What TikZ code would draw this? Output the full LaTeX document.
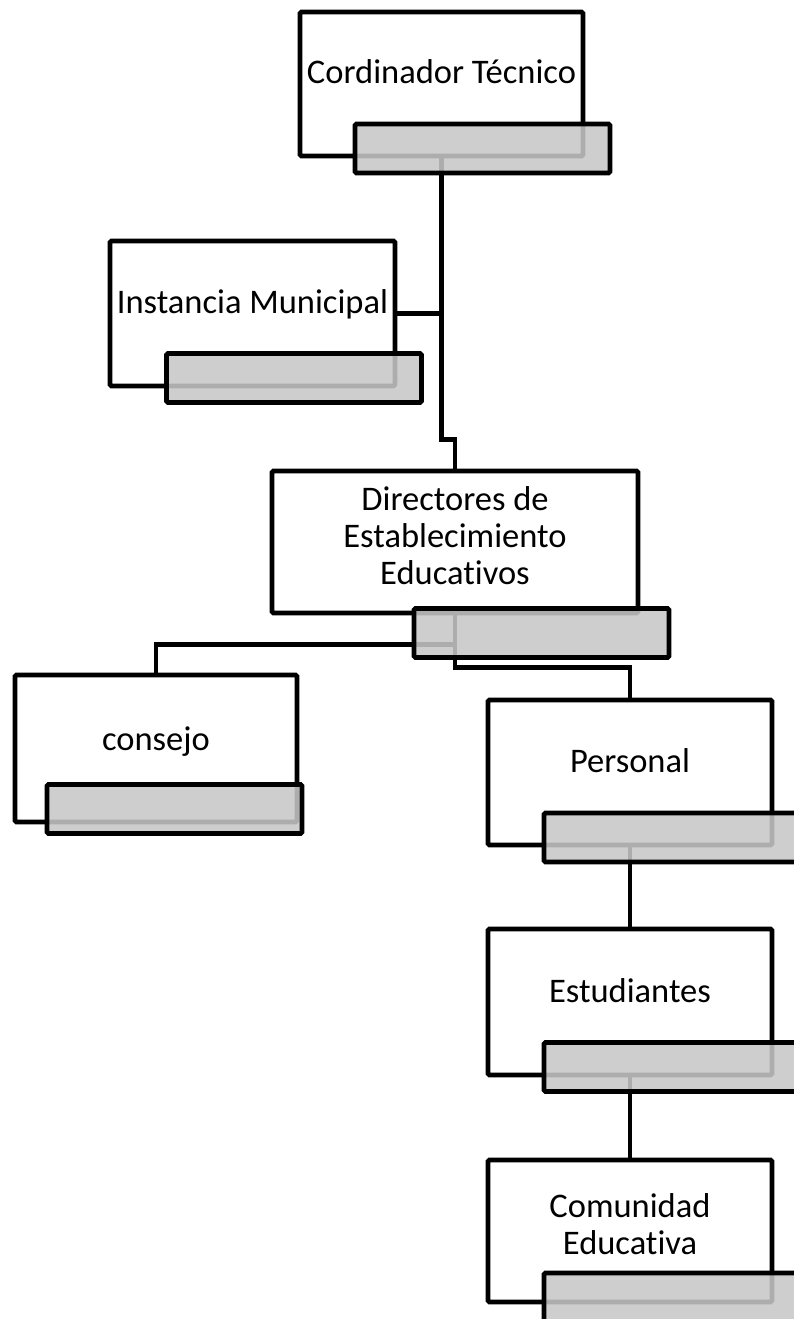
\documentclass[tikz,border=0pt]{standalone}
\usepackage{fontspec}
\setmainfont{Carlito}[Ligatures=NoCommon]
\usepackage{tikz}
\usetikzlibrary{positioning}

\begin{document}
\begin{tikzpicture}[
        x=1pt, y=-1pt,
        unitbox/.style={rectangle, draw=black, line width=4.8pt, fill=white, rounded corners=1.5pt, inner sep=0pt},
        tagbox/.style={rectangle, draw=black, line width=4.8pt, fill=black!22, fill opacity=0.87, rounded corners=1.5pt, minimum width=255pt, minimum height=49pt, inner sep=0pt},
        boxlabel/.style={align=center, font=\fontsize{34.5}{37}\selectfont, inner sep=0pt},
        link/.style={draw=black, line width=4.8pt}
    ]
    \useasboundingbox (0,0) rectangle (793,1319);

    % --- 1. CAJAS ---
    \node[unitbox, minimum width=283pt, minimum height=144pt] (cord) at (441.5, 84) {};
    \node[unitbox, minimum width=285pt, minimum height=145pt] (inst) at (252.5, 313.5) {};
    \node[unitbox, minimum width=366pt, minimum height=142pt] (dir) at (455, 542) {};
    \node[unitbox, minimum width=282pt, minimum height=147pt] (cons) at (156, 748.5) {};
    \node[unitbox, minimum width=284pt, minimum height=145pt] (pers) at (630, 772.5) {};
    \node[unitbox, minimum width=284pt, minimum height=146pt] (estu) at (630, 1002) {};
    \node[unitbox, minimum width=284pt, minimum height=142pt] (comu) at (630, 1231) {};

    % --- 2. TEXTOS ---
    \node[boxlabel, anchor=base] (cordtxt) at (cord.center) {Cordinador Técnico};
    \node[boxlabel, anchor=base] (insttxt) at (inst.center) {Instancia Municipal};
    \node[boxlabel] (dirtxt) at ([yshift=6pt]dir.center) {Directores de\\Establecimiento\\Educativos};
    \node[boxlabel, anchor=base] (constxt) at ([yshift=-2pt]cons.center) {consejo};
    \node[boxlabel, anchor=base] (perstxt) at (pers.center) {Personal};
    \node[boxlabel, anchor=base] (estutxt) at (estu.center) {Estudiantes};
    \node[boxlabel] (comutxt) at ([yshift=7pt]comu.center) {Comunidad\\Educativa};

    % --- 3. CONEXIONES ---
    \draw[link] (cord.south) -- ++(0,281) -| (dir.north);
    \draw[link] (inst.east) -- (cord.south |- inst.east);
    \draw[link] (dir.south) -- ++(0,29) -| (cons.north);
    \draw[link] (dir.south) -- ++(0,52) -| (pers.north);
    \draw[link] (pers.south) -- (estu.north);
    \draw[link] (estu.south) -- (comu.north);

    % --- 4. ETIQUETAS GRISES ---
    \node[tagbox] (cordtag) at (482.5, 148.5) {};
    \node[tagbox] (insttag) at (294, 378) {};
    \node[tagbox] (dirtag) at (541.5, 633) {};
    \node[tagbox] (constag) at (174.5, 809) {};
    \node[tagbox] (perstag) at (671.5, 837.5) {};
    \node[tagbox] (estutag) at (671.5, 1067) {};
    \node[tagbox] (comutag) at (671.5, 1297.5) {};

\end{tikzpicture}
\end{document}
